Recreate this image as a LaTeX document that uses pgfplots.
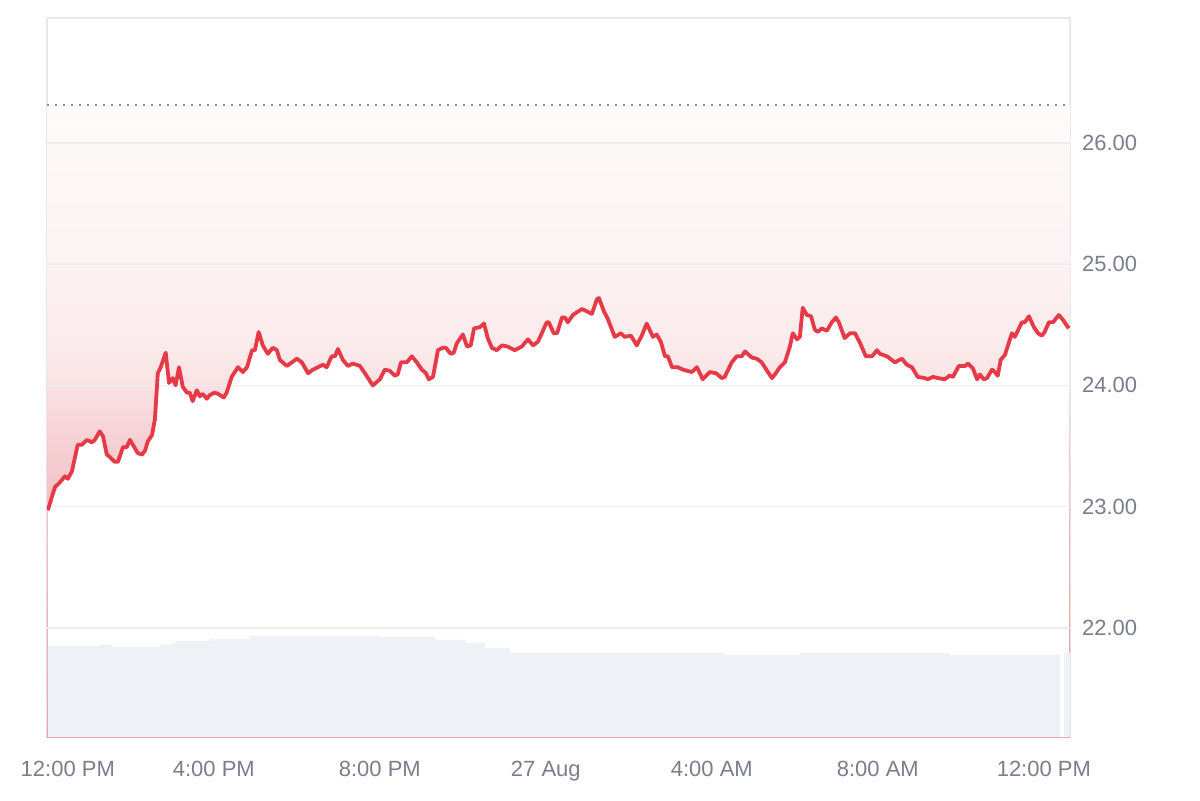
\documentclass[border=0pt]{standalone}
\usepackage{fontspec}
\setmainfont{Liberation Sans}
\usepackage{pgfplots}
\usepackage{pgfplotstable}
\pgfplotsset{compat=1.18}

\definecolor{priceline}{RGB}{230,58,72}
\definecolor{gridc}{RGB}{236,237,239}
\definecolor{framec}{RGB}{230,232,235}
\definecolor{labelc}{RGB}{120,126,138}
\definecolor{volc}{RGB}{238,241,245}
\definecolor{dotc}{RGB}{140,140,140}
\definecolor{fa}{RGB}{233,140,148}
\definecolor{fb}{RGB}{243,190,195}
\definecolor{fc}{RGB}{244,198,202}
\definecolor{fd}{RGB}{247,214,217}
\definecolor{fe}{RGB}{249,225,228}
\definecolor{ff}{RGB}{251,234,235}
\definecolor{fg}{RGB}{252,242,243}
\definecolor{fh}{RGB}{253,248,248}
\definecolor{fi}{RGB}{254,251,251}
\pgfdeclareverticalshading{pinkfade}{100bp}{color(0bp)=(fa); color(25bp)=(fa);
  color(43bp)=(fb); color(45.3bp)=(fc); color(50bp)=(fd); color(52.9bp)=(fe);
  color(55.6bp)=(ff); color(62.4bp)=(fg); color(72bp)=(fh); color(75bp)=(fi); color(100bp)=(fi)}

% hours since 12:00 PM, price
\pgfplotstableread{
h p
0.00 22.97
0.17 23.16
0.29 23.20
0.41 23.25
0.48 23.23
0.58 23.29
0.72 23.51
0.82 23.51
0.94 23.55
1.06 23.53
1.13 23.55
1.25 23.62
1.33 23.58
1.42 23.43
1.49 23.41
1.61 23.37
1.69 23.37
1.81 23.49
1.90 23.49
1.98 23.55
2.05 23.51
2.17 23.44
2.27 23.43
2.34 23.46
2.41 23.54
2.51 23.59
2.58 23.72
2.65 24.10
2.72 24.15
2.84 24.27
2.92 24.02
3.01 24.06
3.08 24.00
3.16 24.15
3.25 23.99
3.35 23.94
3.42 23.94
3.49 23.87
3.59 23.96
3.66 23.91
3.73 23.93
3.83 23.89
3.90 23.92
4.02 23.94
4.10 23.93
4.24 23.90
4.31 23.94
4.43 24.07
4.58 24.15
4.70 24.11
4.80 24.15
4.92 24.29
4.99 24.29
5.08 24.44
5.18 24.33
5.30 24.26
5.42 24.31
5.52 24.29
5.59 24.21
5.76 24.16
6.00 24.22
6.12 24.19
6.27 24.10
6.39 24.13
6.51 24.15
6.63 24.17
6.72 24.15
6.84 24.24
6.92 24.24
6.99 24.30
7.11 24.21
7.23 24.16
7.35 24.18
7.52 24.16
7.64 24.10
7.83 24.00
8.00 24.05
8.12 24.13
8.24 24.12
8.36 24.08
8.43 24.09
8.51 24.19
8.65 24.19
8.77 24.24
8.89 24.19
9.01 24.13
9.11 24.10
9.18 24.05
9.28 24.07
9.40 24.29
9.52 24.31
9.59 24.31
9.71 24.26
9.78 24.27
9.86 24.35
10.00 24.42
10.10 24.32
10.19 24.33
10.27 24.47
10.41 24.48
10.51 24.51
10.60 24.39
10.70 24.31
10.82 24.29
10.94 24.33
11.08 24.32
11.25 24.29
11.42 24.32
11.57 24.38
11.69 24.33
11.81 24.36
12.02 24.52
12.07 24.52
12.19 24.43
12.27 24.43
12.39 24.56
12.46 24.56
12.53 24.52
12.65 24.58
12.87 24.63
12.99 24.61
13.11 24.59
13.23 24.71
13.28 24.72
13.40 24.61
13.49 24.55
13.66 24.40
13.81 24.43
13.90 24.40
14.05 24.41
14.19 24.33
14.31 24.41
14.43 24.51
14.58 24.40
14.67 24.42
14.77 24.36
14.87 24.24
14.94 24.24
15.04 24.15
15.18 24.15
15.30 24.13
15.52 24.11
15.64 24.15
15.78 24.05
15.95 24.11
16.10 24.10
16.24 24.06
16.31 24.07
16.48 24.19
16.60 24.24
16.72 24.24
16.80 24.28
16.96 24.23
17.08 24.22
17.20 24.19
17.33 24.12
17.45 24.06
17.52 24.09
17.64 24.15
17.76 24.19
17.88 24.32
17.95 24.43
18.05 24.38
18.12 24.40
18.19 24.64
18.29 24.58
18.39 24.57
18.48 24.46
18.55 24.44
18.65 24.47
18.77 24.45
18.89 24.52
18.99 24.56
19.06 24.52
19.20 24.39
19.33 24.43
19.45 24.43
19.57 24.35
19.71 24.24
19.86 24.24
19.98 24.29
20.05 24.26
20.22 24.24
20.41 24.19
20.58 24.22
20.70 24.17
20.82 24.15
20.96 24.07
21.13 24.06
21.20 24.05
21.33 24.07
21.45 24.06
21.61 24.05
21.73 24.08
21.81 24.07
21.95 24.16
22.10 24.16
22.17 24.18
22.29 24.14
22.39 24.05
22.46 24.09
22.55 24.05
22.63 24.06
22.75 24.13
22.82 24.11
22.89 24.08
22.96 24.21
23.06 24.25
23.23 24.43
23.30 24.40
23.47 24.52
23.54 24.52
23.64 24.57
23.76 24.48
23.86 24.43
23.95 24.41
24.02 24.44
24.12 24.52
24.22 24.52
24.36 24.58
24.46 24.54
24.60 24.47
}\pricetable

% volume, relative height (percent of plot height), step start in hours
\pgfplotstableread{
h v
0.00 12.66
1.25 12.80
1.54 12.50
2.70 12.90
3.06 13.35
3.90 13.60
4.87 14.05
6.19 14.05
8.00 13.90
9.33 13.50
10.05 13.10
10.53 12.40
11.13 11.70
16.31 11.40
18.12 11.70
21.73 11.40
24.39 0
24.48 11.70
24.63 11.70
}\voltable

\begin{document}
\begin{tikzpicture}
\path[use as bounding box] (0,0) rectangle (600pt,400pt);

% price
\begin{axis}[
    at={(23.5pt,31.5pt)}, anchor=south west,
    width=511.5pt, height=359.5pt, scale only axis,
    xmin=-0.02, xmax=24.63, ymin=21.10, ymax=27.03,
    axis line style={draw=framec, line width=0.75pt},
    major tick length=0pt,
    ytick={22,23,24,25,26},
    yticklabel pos=right,
    yticklabel style={anchor=west, xshift=2.5pt, text=labelc, font=\fontsize{11}{13}\selectfont,
        /pgf/number format/.cd, fixed, fixed zerofill, precision=2, assume math mode=true},
    xtick={4,8,12,16,20,24},
    xticklabels={4:00 PM, 8:00 PM, 27 Aug, 4:00 AM, 8:00 AM, 12:00 PM},
    xticklabel style={anchor=base, yshift=-19.5pt, text=labelc, font=\fontsize{11}{13}\selectfont},
    extra x ticks={0},
    extra x tick labels={12:00 PM},
    extra x tick style={xticklabel style={xshift=10pt}},
    clip=true
]
% gradient band under the reference level, then white below the price
\addplot[draw=none, shading=pinkfade]
    coordinates {(-0.02,26.31) (24.63,26.31)} \closedcycle;
\addplot[draw=none, fill=white] table[x=h, y=p] {\pricetable} \closedcycle;
% grid
\addplot[draw=gridc, line width=0.75pt] coordinates {(-0.02,22) (24.63,22)};
\addplot[draw=gridc, line width=0.75pt] coordinates {(-0.02,23) (24.63,23)};
\addplot[draw=gridc, line width=0.75pt] coordinates {(-0.02,24) (24.63,24)};
\addplot[draw=gridc, line width=0.75pt] coordinates {(-0.02,25) (24.63,25)};
\addplot[draw=gridc, line width=0.75pt] coordinates {(-0.02,26) (24.63,26)};
\addplot[draw=dotc, line width=1pt, dash pattern=on 1pt off 3pt]
    coordinates {(-0.02,26.31) (24.63,26.31)};
\addplot[draw=priceline, line width=1.9pt, line join=round] table[x=h, y=p] {\pricetable};
\end{axis}

% volume
\begin{axis}[
    at={(23.5pt,31.5pt)}, anchor=south west,
    width=511.5pt, height=359.5pt, scale only axis,
    xmin=-0.02, xmax=24.63, ymin=0, ymax=100,
    hide axis, clip=true
]
\addplot[const plot, fill=volc, draw=none] table[x=h, y=v] {\voltable} \closedcycle;
\end{axis}
\end{tikzpicture}
\end{document}
